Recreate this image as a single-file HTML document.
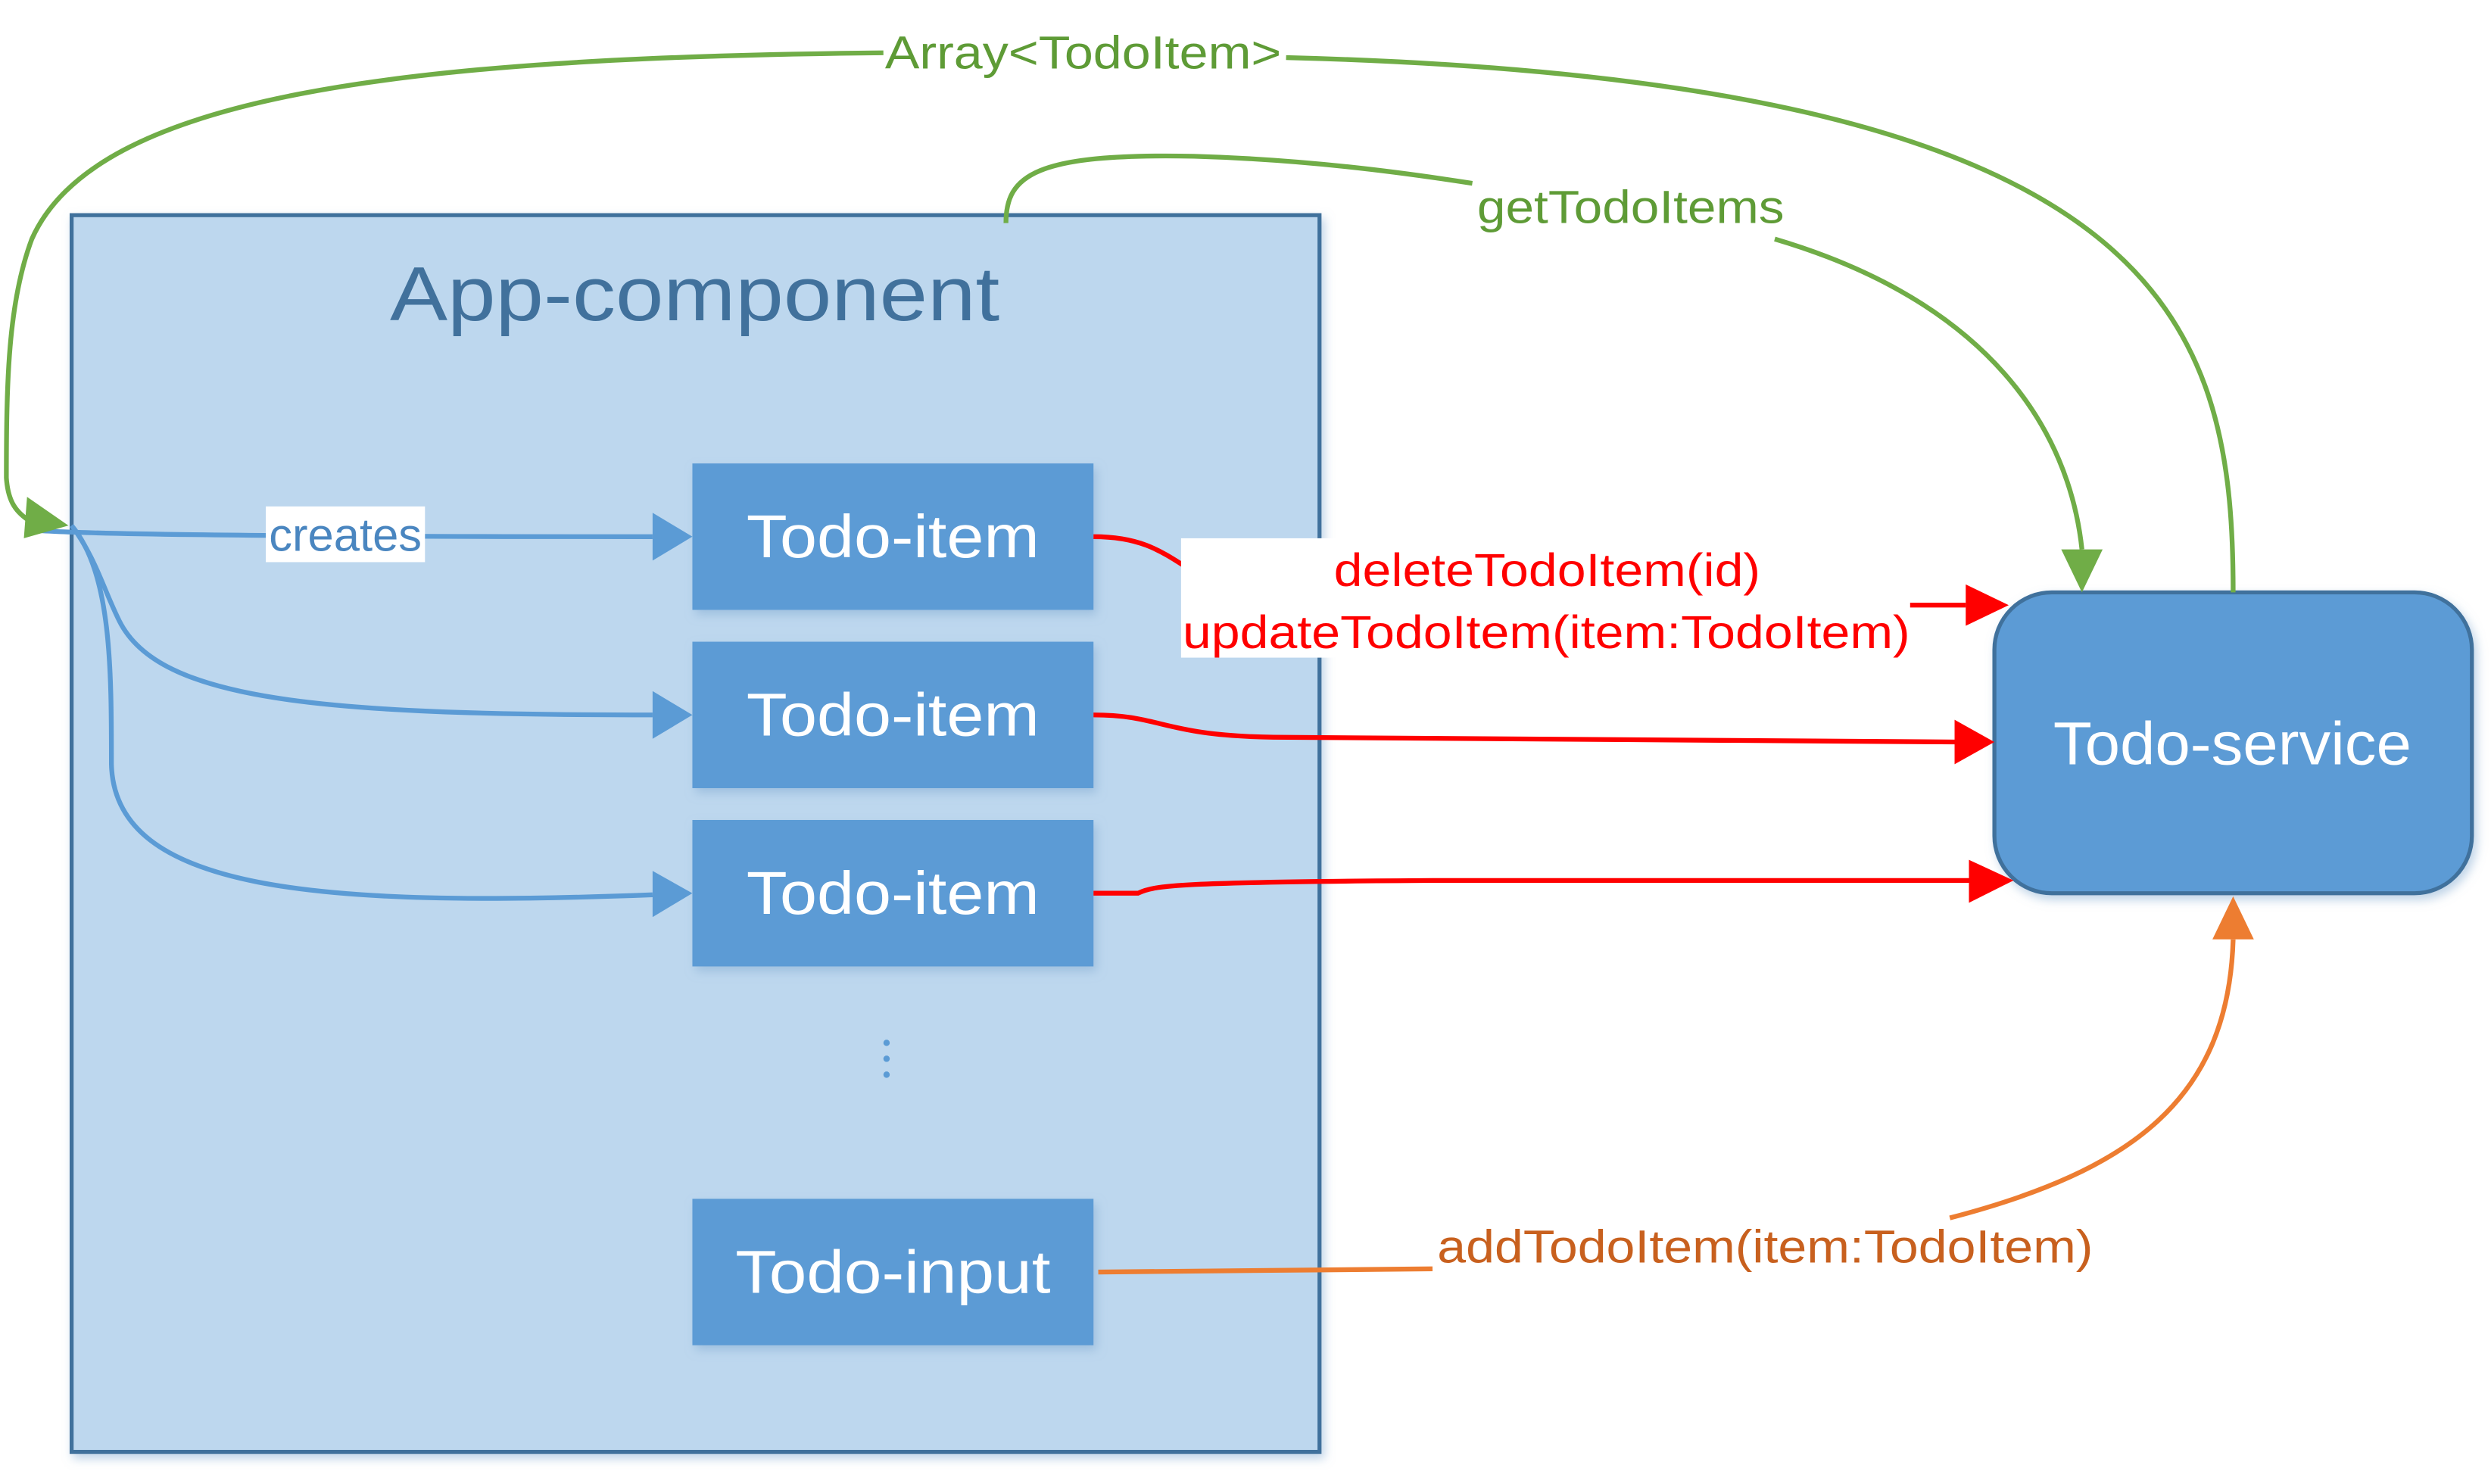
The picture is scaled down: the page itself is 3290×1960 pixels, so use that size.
<!DOCTYPE html>
<html><head><meta charset="utf-8"><style>
html,body{margin:0;padding:0;background:#fff;}
svg{display:block;}
text{font-family:"Liberation Sans",sans-serif;}
</style></head><body>
<svg width="3290" height="1960" viewBox="0 0 1565 932" xmlns="http://www.w3.org/2000/svg">
<defs>
<filter id="sh" x="-10%" y="-10%" width="130%" height="130%"><feDropShadow dx="2" dy="3" stdDeviation="3" flood-color="#7fa7cf" flood-opacity="0.5"/></filter>
</defs>
<rect x="45" y="135" width="784" height="777" fill="#BDD7EE" stroke="#41719C" stroke-width="2.5" filter="url(#sh)"/>
<text x="245" y="201" font-size="48" fill="#41719C" textLength="383" lengthAdjust="spacingAndGlyphs">App-component</text>

<g filter="url(#sh)" fill="#5B9BD5">
<rect x="435" y="291" width="252" height="92"/>
<rect x="435" y="403" width="252" height="92"/>
<rect x="435" y="515" width="252" height="92"/>
<rect x="435" y="753" width="252" height="92"/>
<rect x="1253" y="372" width="300" height="189" rx="36" stroke="#41719C" stroke-width="2.5"/>
</g>
<g fill="#fff" font-size="38" lengthAdjust="spacingAndGlyphs">
<text x="469" y="350" textLength="184" lengthAdjust="spacingAndGlyphs">Todo-item</text>
<text x="469" y="462" textLength="184" lengthAdjust="spacingAndGlyphs">Todo-item</text>
<text x="469" y="574" textLength="184" lengthAdjust="spacingAndGlyphs">Todo-item</text>
<text x="462" y="812" textLength="198" lengthAdjust="spacingAndGlyphs">Todo-input</text>
<text x="1290" y="480" textLength="225" lengthAdjust="spacingAndGlyphs">Todo-service</text>
</g>
<g fill="#5B9BD5"><circle cx="557" cy="655" r="2"/><circle cx="557" cy="665" r="2"/><circle cx="557" cy="675" r="2"/></g>

<g fill="none" stroke="#5B9BD5" stroke-width="3">
<path d="M22,333 C60,336 200,337 410,337"/>
<path d="M45,330 C60,350 65,370 75,390 C100,440 200,449 410,449"/>
<path d="M45,330 C70,360 70,420 70,480 C72,560 200,570 410,562"/>
</g>
<g fill="#5B9BD5">
<polygon points="410,322 435,337 410,352"/>
<polygon points="410,434 435,449 410,464"/>
<polygon points="410,547 435,561 410,576"/>
</g>
<rect x="167" y="318" width="100" height="35" fill="#fff"/>
<text x="169" y="346" font-size="29" fill="#4A86C0" textLength="96" lengthAdjust="spacingAndGlyphs">creates</text>

<g fill="none" stroke="#70AD47" stroke-width="3">
<path d="M1403,372 C1403,200 1360,50 808,36"/>
<path d="M555,33 C250,36 60,60 20,150 C5,190 4,240 4,300 C5,315 10,322 20,328"/>
<path d="M632,140 C632,110 650,96 750,98 C820,100 880,108 925,115"/>
<path d="M1115,150 C1250,190 1300,270 1308,345"/>
</g>
<g fill="#70AD47">
<polygon points="17,312 15,338 43,330"/>
<polygon points="1295,345 1321,345 1308,372"/>
</g>
<text x="556" y="43" font-size="29" fill="#5E9B36" textLength="249" lengthAdjust="spacingAndGlyphs">Array&lt;TodoItem&gt;</text>
<text x="928" y="140" font-size="29" fill="#5E9B36" textLength="193" lengthAdjust="spacingAndGlyphs">getTodoItems</text>

<g fill="none" stroke="#FF0000" stroke-width="3">
<path d="M687,337 C715,337 728,345 745,356"/>
<path d="M1200,380 L1235,380"/>
<path d="M687,449 C730,449 730,462 800,463 L1230,466"/>
<path d="M687,561 L715,561 C725,556 740,554 900,553 L1240,553"/>
</g>
<rect x="742" y="338" width="458" height="75" fill="#fff"/>
<g fill="#FF0000" font-size="29">
<text x="838" y="368" textLength="268" lengthAdjust="spacingAndGlyphs">deleteTodoItem(id)</text>
<text x="743" y="407" textLength="457" lengthAdjust="spacingAndGlyphs">updateTodoItem(item:TodoItem)</text>
</g>
<g fill="#FF0000">
<polygon points="1235,367 1262,380 1235,393"/>
<polygon points="1228,452 1253,466 1228,480"/>
<polygon points="1237,540 1265,553 1237,567"/>
</g>

<g fill="none" stroke="#ED7D31" stroke-width="3">
<path d="M690,799 L900,797"/>
<path d="M1225,765 C1340,735 1400,690 1403,590"/>
</g>
<polygon points="1390,590 1416,590 1403,563" fill="#ED7D31"/>
<text x="903" y="793" font-size="29" fill="#C8601E" textLength="412" lengthAdjust="spacingAndGlyphs">addTodoItem(item:TodoItem)</text>
</svg>
</body></html>
